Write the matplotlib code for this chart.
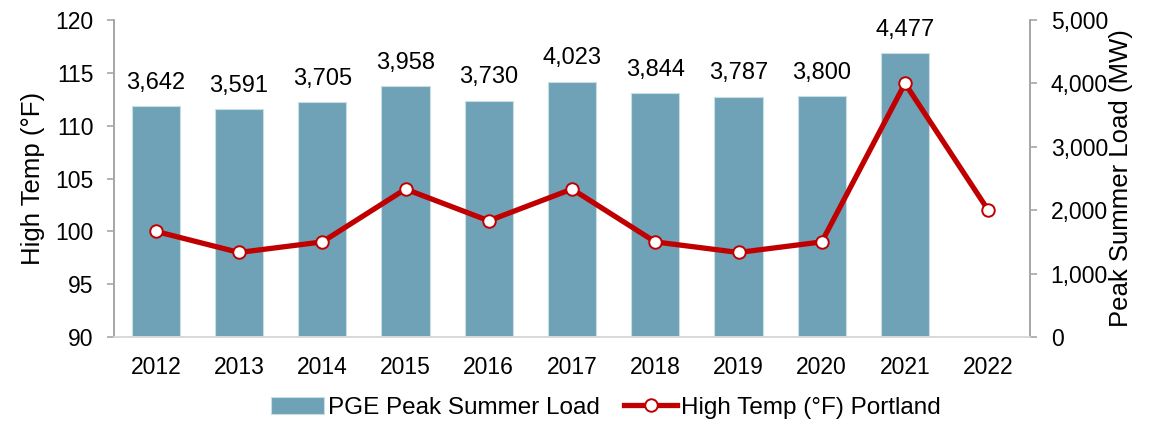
import matplotlib.pyplot as plt
from matplotlib.ticker import FuncFormatter

plt.rcParams['font.family'] = ['Liberation Sans', 'DejaVu Sans']

# data
years = ['2012', '2013', '2014', '2015', '2016', '2017', '2018', '2019', '2020', '2021', '2022']
peak_load = [3642, 3591, 3705, 3958, 3730, 4023, 3844, 3787, 3800, 4477]
high_temp = [100, 98, 99, 104, 101, 104, 99, 98, 99, 114, 102]

bar_color = '#6fa2b7'
line_color = '#c00000'
spine_color = '#a6a6a6'

fig = plt.figure(figsize=(11.65, 4.21), dpi=100)
ax = fig.add_axes([0.098, 0.1995, 0.786, 0.753])
ax2 = ax.twinx()

x = list(range(len(years)))

# bars on right axis
bars = ax2.bar(x[:len(peak_load)], peak_load, width=0.58, color=bar_color,
               edgecolor='#c9dde5', linewidth=0.8, label='PGE Peak Summer Load', zorder=1)
for xi, v in zip(x, peak_load):
    ax2.annotate(f'{v:,}', (xi, v), xytext=(0, 9), textcoords='offset points',
                 ha='center', va='bottom', fontsize=17)

# line on left axis, drawn above bars
ax.set_zorder(ax2.get_zorder() + 1)
ax.patch.set_visible(False)
line, = ax.plot(x, high_temp, color=line_color, linewidth=3.8, marker='o',
                markersize=9, markerfacecolor='white', markeredgecolor=line_color,
                markeredgewidth=1.4, label='High Temp (°F) Portland', zorder=3)

ax.set_xlim(-0.5, len(years) - 0.5)
ax.set_ylim(90, 120)
ax.set_yticks(range(90, 121, 5))
ax2.set_ylim(0, 5000)
ax2.set_yticks(range(0, 5001, 1000))
ax2.yaxis.set_major_formatter(FuncFormatter(lambda v, p: f'{int(v):,}'))

ax.set_xticks(x)
ax.set_xticklabels(years)

ax.set_ylabel('High Temp (°F)', fontsize=18.5, labelpad=7)
ax2.set_ylabel('Peak Summer Load (MW)', fontsize=18.5, labelpad=1)

for a in (ax, ax2):
    a.spines['top'].set_visible(False)
    for s in ('left', 'right', 'bottom'):
        a.spines[s].set_color(spine_color)
        a.spines[s].set_linewidth(1.2)
    a.tick_params(axis='y', labelsize=16.5, color=spine_color, length=5, width=1.2, pad=10)
ax.spines['bottom'].set_color('#d9d9d9')
ax2.spines['bottom'].set_color('#d9d9d9')
ax.tick_params(axis='x', length=0, labelsize=16.5, pad=14)

fig.legend([bars, line], ['PGE Peak Summer Load', 'High Temp (°F) Portland'],
           loc='center', bbox_to_anchor=(0.52, 0.031), ncol=2, frameon=False,
           fontsize=17.5, handlelength=2.2, handletextpad=0.15, columnspacing=1.0)

fig.savefig('out.png', dpi=100)
